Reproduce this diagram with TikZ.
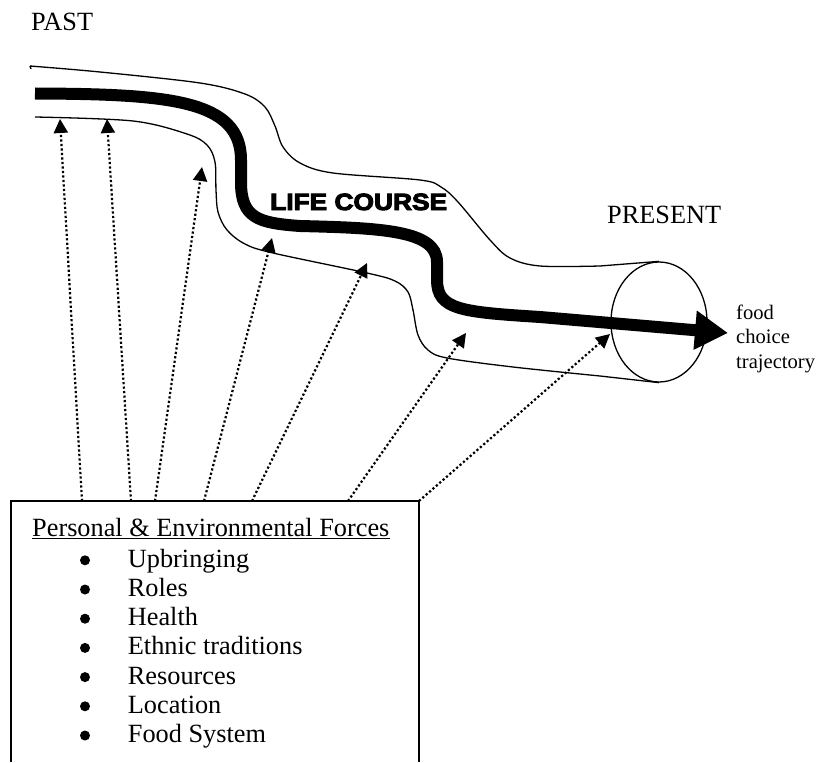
\documentclass[tikz,border=0pt]{standalone}
\usepackage{fontspec}
\setmainfont{Liberation Serif}
\newfontfamily\labelsans[FakeBold=4]{Liberation Sans Bold}
\usetikzlibrary{arrows.meta,shapes.geometric}

\tikzset{
  tube/.style={line width=1.3pt, line join=round},
  lifeline/.style={line width=12pt, -{Triangle[length=33pt,width=37pt]}},
  influence/.style={line width=2.2pt, dash pattern=on 2.2pt off 2.3pt,
                    -{Triangle[length=14pt,width=14pt]}},
  frame/.style={line width=1.5pt},
  txt/.style={inner sep=0pt, anchor=base west, font=\fontsize{26.3}{29.2}\selectfont},
  small/.style={inner sep=0pt, anchor=base west, font=\fontsize{20.6}{24.5}\selectfont},
  dot/.style={circle, fill, inner sep=0pt, minimum size=10pt},
}

\begin{document}
\begin{tikzpicture}[x=1pt, y=-1pt]
\useasboundingbox (0,0) rectangle (818,762);

% --- time labels -------------------------------------------------------
\node[txt] (past) at (31,31) {PAST};
\node[txt] (present) at (607,223) {PRESENT};
\node[inner sep=0pt, anchor=base west,
      font=\labelsans\fontsize{23.5}{26}\selectfont] (lifecourse) at (270,210)
      {\scalebox{1.12}[1]{LIFE COURSE}};
\node[small] (food) at (736,319) {food};
\node[small] (choice) at (736,343.5) {choice};
\node[small] (trajectory) at (736,368) {trajectory};

% --- the tube around the life course -----------------------------------
\node[draw, tube, ellipse, minimum width=96pt, minimum height=120pt, inner sep=0pt]
  (mouth) at (659,322) {};
\draw[tube] (31,69) -- (30,66)
  plot[smooth, tension=0.55] coordinates {(30,66) (100,72) (200,83) (245,94) (265,107)
    (275,126) (283,147) (300,163) (333,173) (420,180) (441,187) (458,202)
    (490,240) (510,258) (540,266) (600,266)} -- (mouth.north);
\draw[tube]
  plot[smooth, tension=0.55] coordinates {(35,117) (133,121) (187,134) (207,145)
    (215,162) (216,190) (218,212) (227,230) (245,244) (273,253) (367,273)
    (395,281) (408,292) (413,310) (418,335) (428,350) (447,358) (513,367)
    (600,376)} -- (mouth.south);

% --- the life course itself --------------------------------------------
\coordinate (lcstart) at (35,93.5);
\coordinate (lcend) at (728,333);
\draw[lifeline] (lcstart) .. controls (170,94) and (241,100) .. (241,160)
  -- (241,182) .. controls (241,218) and (258,223) .. (300,226)
  .. controls (380,228) and (437,230) .. (437,262)
  -- (437,280) .. controls (437,310) and (462,312) .. (540,317)
  -- (lcend);

% --- box of forces (open at the bottom) --------------------------------
\coordinate (boxtl) at (11,501);
\coordinate (boxtr) at (419,501);
\draw[frame] (11,762) -- (boxtl) -- (boxtr) -- (419,762);

\node[txt] (heading) at (32,536) {Personal \& Environmental Forces};
\draw[line width=1.3pt] ([yshift=-2.6pt]heading.base west) -- ([yshift=-2.6pt]heading.base east);

\foreach \item [count=\i from 0] in {Upbringing, Roles, Health, Ethnic traditions,
                                     Resources, Location, Food System} {
  \node[dot] (bullet\i) at (85,560.3+29.2*\i) {};
  \node[txt] (item\i) at (127.7,567.3+29.2*\i) {\item};
}

% --- influences acting on the life course ------------------------------
\coordinate (s1) at (82,501);   \coordinate (t1) at (60,119);
\coordinate (s2) at (131,501);  \coordinate (t2) at (107,119);
\coordinate (s3) at (155,501);  \coordinate (t3) at (202,167);
\coordinate (s4) at (204,501);  \coordinate (t4) at (272,238);
\coordinate (s5) at (252,501);  \coordinate (t5) at (367,263);
\coordinate (s6) at (348,501);  \coordinate (t6) at (466,333);
\coordinate (s7) at (boxtr);    \coordinate (t7) at (610,334);
\foreach \k in {1,...,7} {
  \draw[influence] (s\k) -- (t\k);
}
\end{tikzpicture}
\end{document}
